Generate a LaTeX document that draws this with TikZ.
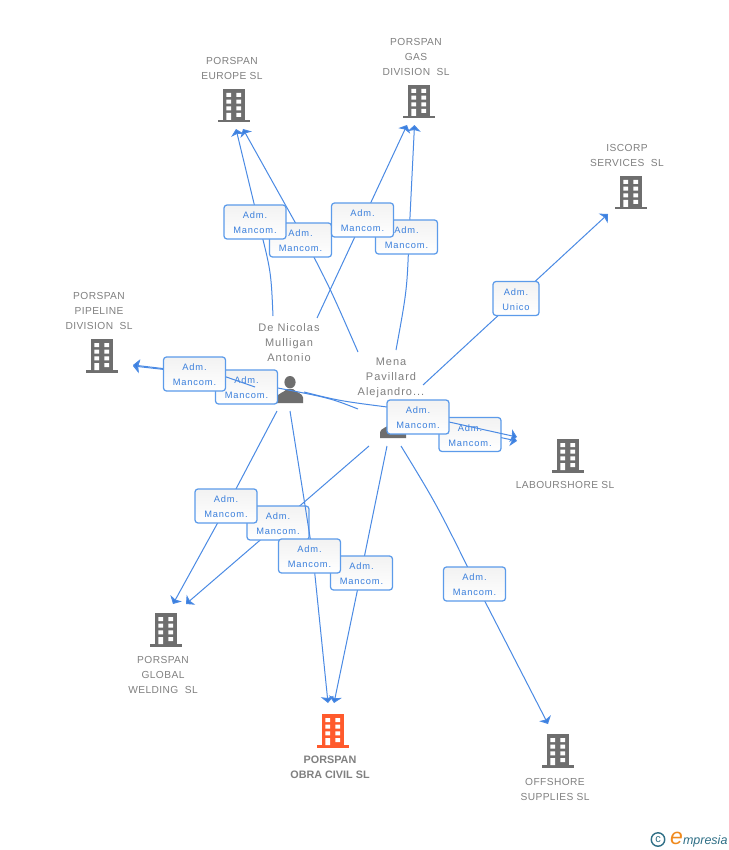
\documentclass[tikz,border=0pt]{standalone}
\usepackage{fontspec}
\setmainfont{Liberation Sans}
\newfontfamily\greyfont[LetterSpace=4]{Liberation Sans}
\newfontfamily\namefont[LetterSpace=9]{Liberation Sans}
\newfontfamily\relfont[LetterSpace=9]{Liberation Sans}
\usetikzlibrary{arrows.meta}
\definecolor{linkblue}{HTML}{4A8AE4}
\definecolor{tipblue}{HTML}{3A7EDE}
\definecolor{textblue}{HTML}{3A7FDC}
\definecolor{edgeblue}{HTML}{5C9BEA}
\definecolor{greytext}{HTML}{808080}
\definecolor{iconGrey}{HTML}{6E6E6E}
\definecolor{iconOrange}{HTML}{FF5A2C}
\definecolor{logoTeal}{HTML}{2F6F86}
\definecolor{logoOrange}{HTML}{F08A1E}
\tikzset{
  conn/.style={draw=linkblue,line width=1pt,-{Stealth[length=6.5pt,width=13pt,inset=1.5pt,fill=tipblue]}},
  rel/.style={draw=edgeblue,line width=1.25pt,rounded corners=3pt,top color=black!5,bottom color=white,
    minimum width=62pt,minimum height=34pt,inner sep=0pt,align=center,text=textblue,
    font=\relfont\fontsize{9.3}{15}\selectfont},
  ent/.style={text=greytext,align=center,inner sep=0pt,font=\greyfont\fontsize{10.2}{15}\selectfont},
  who/.style={text=greytext,align=center,inner sep=0pt,font=\namefont\fontsize{11}{15}\selectfont},
  main/.style={text=greytext,align=center,inner sep=0pt,font=\bfseries\fontsize{10.8}{15}\selectfont},
  spot/.style={inner sep=0pt,minimum width=32pt,minimum height=33pt}
}
% building icon: name, centre x, top y, colour
\newcommand{\bldg}[4]{%
  \node[spot] (#1) at (#2,#3+16.5) {};
  \begin{scope}[shift={(#2-11,#3)}]
    \fill[#4] (0,0) rectangle (22,32);
    \fill[#4] (-5,31) rectangle (27,33.5);
    \fill[white] (3.4,4) rectangle (8.2,8) (13.4,4) rectangle (18.2,8)
      (3.4,10.7) rectangle (8.2,14.7) (13.4,10.7) rectangle (18.2,14.7)
      (3.4,17.4) rectangle (8.2,21.4) (13.4,17.4) rectangle (18.2,21.4)
      (3.4,24) rectangle (8.2,31) (13.4,24) rectangle (18.2,28);
  \end{scope}}
% person icon: name, centre x, top y
\newcommand{\persona}[3]{%
  \node[inner sep=0pt,minimum width=26pt,minimum height=27pt] (#1) at (#2,#3+13.5) {};
  \begin{scope}[shift={(#2,#3)}]
    \fill[iconGrey] (0,6.2) ellipse (5.6 and 6.2);
    \fill[iconGrey] (-13,27) -- (-13,21.5) .. controls (-13,17.5) and (-6,16.5) .. (-3,13)
      -- (3,13) .. controls (6,16.5) and (13,17.5) .. (13,21.5) -- (13,27) -- cycle;
  \end{scope}}
\begin{document}
\begin{tikzpicture}[x=1pt,y=-1pt]
\useasboundingbox (0,0) rectangle (728,850);
\fill[white] (0,0) rectangle (728,850);

% icons
\bldg{europe}{234}{89}{iconGrey}
\bldg{gas}{419}{85}{iconGrey}
\bldg{iscorp}{631}{176}{iconGrey}
\bldg{pipeline}{102}{339}{iconGrey}
\bldg{labour}{568}{439}{iconGrey}
\bldg{welding}{166}{613}{iconGrey}
\bldg{obra}{333}{714}{iconOrange}
\bldg{offshore}{558}{734}{iconGrey}
\persona{denicolas}{290}{376}
\persona{mena}{393}{411}

% connector ends and bends
\coordinate (s1) at (358,352); \coordinate (c1) at (330,288); \coordinate (w1) at (305,240); \coordinate (t1) at (243,129);
\coordinate (s2) at (273,316); \coordinate (c2) at (271,271); \coordinate (w2) at (258.5,222); \coordinate (t2) at (236,129);
\coordinate (s3) at (396,350); \coordinate (c3) at (407,290); \coordinate (w3) at (409,237); \coordinate (t3) at (414.5,125);
\coordinate (s4) at (317,318); \coordinate (t4) at (407,125);
\coordinate (s5) at (423,385); \coordinate (t5) at (608,214);
\coordinate (s6) at (358,409); \coordinate (c6) at (330,398); \coordinate (w6) at (270,386.5); \coordinate (v6) at (200,373.5); \coordinate (t6) at (133,366);
\coordinate (s7) at (255,387); \coordinate (w7) at (222,375.5); \coordinate (t7) at (133,365);
\coordinate (s8) at (410,425); \coordinate (w8) at (470,431); \coordinate (t8) at (517,441);
\coordinate (s9) at (304,392); \coordinate (c9) at (340,401); \coordinate (w9) at (395,408); \coordinate (v9) at (440,420); \coordinate (t9) at (517,437);
\coordinate (s10) at (369,446); \coordinate (w10) at (280,523); \coordinate (t10) at (186,604);
\coordinate (s11) at (277,411); \coordinate (w11) at (227,506); \coordinate (t11) at (173,604);
\coordinate (s12) at (387,446); \coordinate (w12) at (361,573); \coordinate (t12) at (334,703);
\coordinate (s13) at (290,411); \coordinate (c13) at (301,480); \coordinate (w13) at (313,556); \coordinate (t13) at (328,703);
\coordinate (s14) at (401,446); \coordinate (c14) at (437,505); \coordinate (w14) at (477,586); \coordinate (t14) at (548,724);

% connectors and their labels, back to front
\draw[conn] (s1) .. controls (c1) .. (w1) -- (t1);
\node[rel] (r1) at (300.5,240) {\rule{0pt}{9pt}Adm.\\Mancom.};
\draw[conn] (s2) .. controls (c2) .. (w2) -- (t2);
\node[rel] (r2) at (255,222) {\rule{0pt}{9pt}Adm.\\Mancom.};
\draw[conn] (s3) .. controls (c3) .. (w3) -- (t3);
\node[rel] (r3) at (406.5,237) {\rule{0pt}{9pt}Adm.\\Mancom.};
\draw[conn] (s4) -- (t4);
\node[rel] (r4) at (362.5,220) {\rule{0pt}{9pt}Adm.\\Mancom.};
\draw[conn] (s5) -- (t5);
\node[rel,minimum width=46pt] (r5) at (516,298.5) {\rule{0pt}{9pt}Adm.\\Unico};
\draw[conn] (s6) .. controls (c6) .. (w6) -- (v6) -- (t6);
\node[rel] (r6) at (246.5,387) {\rule{0pt}{9pt}Adm.\\Mancom.};
\draw[conn] (s7) -- (w7) -- (t7);
\node[rel] (r7) at (194.5,374) {\rule{0pt}{9pt}Adm.\\Mancom.};
\draw[conn] (s8) -- (w8) -- (t8);
\node[rel] (r8) at (470,434.5) {\rule{0pt}{9pt}Adm.\\Mancom.};
\draw[conn] (s9) .. controls (c9) .. (w9) -- (v9) -- (t9);
\node[rel] (r9) at (418,417) {\rule{0pt}{9pt}Adm.\\Mancom.};
\draw[conn] (s10) -- (w10) -- (t10);
\node[rel] (r10) at (278,523) {\rule{0pt}{9pt}Adm.\\Mancom.};
\draw[conn] (s11) -- (w11) -- (t11);
\node[rel] (r11) at (226,506) {\rule{0pt}{9pt}Adm.\\Mancom.};
\draw[conn] (s12) -- (w12) -- (t12);
\node[rel] (r12) at (361.5,573) {\rule{0pt}{9pt}Adm.\\Mancom.};
\draw[conn] (s13) .. controls (c13) .. (w13) -- (t13);
\node[rel] (r13) at (309.5,556) {\rule{0pt}{9pt}Adm.\\Mancom.};
\draw[conn] (s14) .. controls (c14) .. (w14) -- (t14);
\node[rel] (r14) at (474.5,584) {\rule{0pt}{9pt}Adm.\\Mancom.};

% names
\node[ent] (n1) at (232,68.5) {PORSPAN\\EUROPE SL};
\node[ent] (n2) at (416,57) {PORSPAN\\GAS\\DIVISION\ \ SL};
\node[ent] (n3) at (627,155) {ISCORP\\SERVICES\ \ SL};
\node[ent] (n4) at (99,311) {PORSPAN\\PIPELINE\\DIVISION\ \ SL};
\node[ent] (n5) at (565,485) {LABOURSHORE SL};
\node[ent] (n6) at (163,675) {PORSPAN\\GLOBAL\\WELDING\ \ SL};
\node[main] (n7) at (330,767) {PORSPAN\\OBRA CIVIL SL};
\node[ent] (n8) at (555,789) {OFFSHORE\\SUPPLIES SL};
\node[who] (n9) at (289,343) {De Nicolas\\Mulligan\\Antonio};
\node[who] (n10) at (391,378) {Mena\\Pavillard\\Alejandro...};

% logo
\node[circle,draw=logoTeal,line width=1.4pt,inner sep=0pt,minimum size=13.5pt,text=logoTeal,font=\fontsize{11}{11}\selectfont] (copy) at (658,839.5) {c};
\node[inner sep=0pt,anchor=base west,font=\itshape] (logo) at (670,844) {{\fontsize{23}{23}\selectfont\color{logoOrange}e}{\fontsize{12.5}{12}\selectfont\color{logoTeal}mpresia}};
\end{tikzpicture}
\end{document}
